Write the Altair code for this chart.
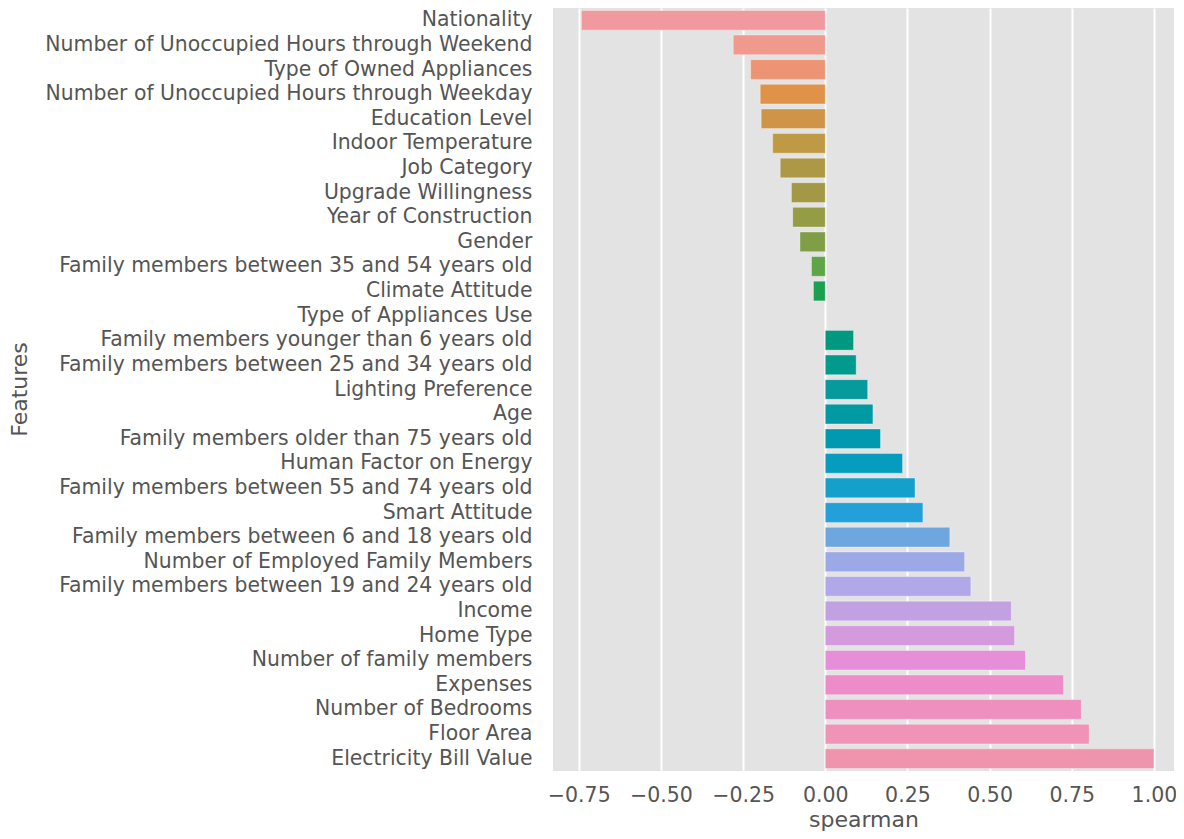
import altair as alt
import pandas as pd

features = [
    "Nationality",
    "Number of Unoccupied Hours through Weekend",
    "Type of Owned Appliances",
    "Number of Unoccupied Hours through Weekday",
    "Education Level",
    "Indoor Temperature",
    "Job Category",
    "Upgrade Willingness",
    "Year of Construction",
    "Gender",
    "Family members between 35 and 54 years old",
    "Climate Attitude",
    "Type of Appliances Use",
    "Family members younger than 6 years old",
    "Family members between 25 and 34 years old",
    "Lighting Preference",
    "Age",
    "Family members older than 75 years old",
    "Human Factor on Energy",
    "Family members between 55 and 74 years old",
    "Smart Attitude",
    "Family members between 6 and 18 years old",
    "Number of Employed Family Members",
    "Family members between 19 and 24 years old",
    "Income",
    "Home Type",
    "Number of family members",
    "Expenses",
    "Number of Bedrooms",
    "Floor Area",
    "Electricity Bill Value",
]

spearman = [
    -0.742, -0.280, -0.227, -0.198, -0.195, -0.160, -0.137, -0.103, -0.099,
    -0.077, -0.042, -0.036, 0.0, 0.086, 0.094, 0.129, 0.145, 0.168, 0.235,
    0.273, 0.297, 0.379, 0.424, 0.443, 0.566, 0.576, 0.609, 0.725, 0.779,
    0.803, 1.0,
]

tick_values = [-0.75, -0.5, -0.25, 0, 0.25, 0.5, 0.75, 1.0]

# bar colours (seaborn husl-like palette)
colors = [
    "#f09aa0", "#ef9a8c", "#ec9474", "#e09348", "#cf9447", "#bf9a44",
    "#ac9845", "#a29846", "#949c45", "#7f9e46", "#5ea545", "#1ba04f",
    "#00a068", "#00997f", "#009b8c", "#079a9c", "#009aa5", "#0099b0",
    "#069cbd", "#14a0cb", "#239fd9", "#6ea7e0", "#9ba9e6", "#b1a8ea",
    "#c2a1e2", "#d39ade", "#e78ed9", "#ee8cc9", "#ee8fbf", "#ef94b7",
    "#ef94ad",
]

df = pd.DataFrame({"Features": features, "spearman": spearman})

FONT = "DejaVu Sans"
TEXT = "#555555"

chart = (
    alt.Chart(df)
    .mark_bar(stroke="white", strokeOpacity=0.35, strokeWidth=1)
    .encode(
        x=alt.X(
            "spearman:Q",
            scale=alt.Scale(domain=[-0.8284, 1.061], nice=False, zero=False),
            axis=alt.Axis(
                values=tick_values,
                format=".2f",
                grid=True,
                gridColor="white",
                gridWidth=2,
                ticks=False,
                domain=False,
                labelFont=FONT,
                labelFontSize=20.5,
                labelColor=TEXT,
                labelPadding=14,
                title="spearman",
                titleFont=FONT,
                titleFontSize=22,
                titleFontWeight="normal",
                titleColor=TEXT,
                titleBaseline="alphabetic",
                titleY=55,
            ),
        ),
        y=alt.Y(
            "Features:N",
            sort=features,
            scale=alt.Scale(paddingInner=0.2, paddingOuter=0.1),
            axis=alt.Axis(
                grid=False,
                ticks=False,
                domain=False,
                labelFont=FONT,
                labelFontSize=20.4,
                labelColor=TEXT,
                labelPadding=21,
                labelLimit=1000,
                title="Features",
                titleFont=FONT,
                titleFontSize=22,
                titleFontWeight="normal",
                titleColor=TEXT,
                titleX=-534,
                titleY=381,
                titleAlign="center",
                titleBaseline="middle",
            ),
        ),
        color=alt.Color(
            "Features:N",
            sort=features,
            scale=alt.Scale(domain=features, range=colors),
            legend=None,
        ),
    )
    .properties(
        width=621,
        height=763,
        autosize=alt.AutoSizeParams(type="none"),
        padding={"left": 545, "top": 0, "right": 2, "bottom": 60},
    )
    .configure_view(fill="#E3E3E3", strokeWidth=0)
    .configure_axis(labelFontWeight="normal")
)

chart.save("out.html", embed_options={"renderer": "svg", "actions": False})
